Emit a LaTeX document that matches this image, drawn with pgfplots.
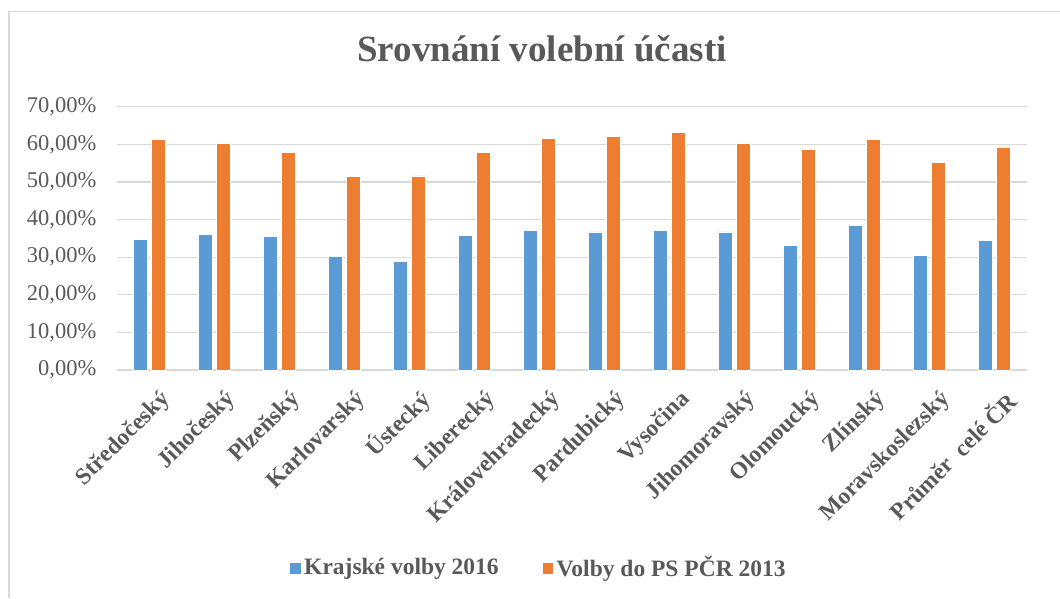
\documentclass[border=0pt]{standalone}
\usepackage{fontspec}
\setmainfont{Liberation Serif}
\usepackage{pgfplots}
\pgfplotsset{compat=1.18}
\definecolor{xblue}{HTML}{5B9BD5}
\definecolor{xorange}{HTML}{ED7D31}
\definecolor{xtext}{HTML}{595959}
\definecolor{xgrid}{HTML}{D9D9D9}
\begin{document}
\begin{tikzpicture}[x=1pt,y=1pt]
\useasboundingbox (0,0) rectangle (1060,598);
\draw[xgrid, line width=1.2pt] (9,0) -- (9,586.5) -- (1060,586.5);
\begin{axis}[
  at={(117pt,228pt)}, anchor=south west,
  scale only axis, width=910pt, height=263.3pt,
  xmin=-0.5, xmax=13.5, ymin=0, ymax=70,
  ytick={0,10,...,70},
  xtick={0,...,13},
  xticklabels={Středočeský, Jihočeský, Plzeňský, Karlovarský, Ústecký, Liberecký, Královehradecký, Pardubický, Vysočina, Jihomoravský, Olomoucký, Zlínský, Moravskoslezský, {Průměr~~celé ČR}},
  axis line style={draw=none},
  ymajorgrids, grid style={xgrid, line width=1.2pt},
  major tick length=0pt,
  /pgf/number format/assume math mode=true,
  yticklabel={\pgfmathprintnumber[fixed, fixed zerofill, precision=2, use comma]{\tick}\%},
  yticklabel style={font=\fontsize{22.5}{26}\selectfont, text=xtext, inner sep=0pt, anchor=east, xshift=-20.5pt},
  xticklabel style={font=\fontsize{23.5}{27}\selectfont\bfseries, text=xtext, inner sep=0pt, xshift=17pt, yshift=-26pt, rotate=45, anchor=east},
  title={Srovnání volební účasti},
  title style={at={(0.467,1.196)}, anchor=center, font=\fontsize{37}{40}\selectfont\bfseries, text=xtext},
  legend columns=2,
  legend style={at={(0.4637,-0.748)}, anchor=center, draw=none, fill=none, font=\fontsize{23.5}{27}\selectfont\bfseries, text=xtext, nodes={inner xsep=3pt}, /tikz/every even column/.append style={column sep=40pt}},
  legend image code/.code={\fill[#1] (0pt,-7pt) rectangle (11.5pt,4.5pt);},
]
\addplot[ybar, bar width=14pt, bar shift=-9pt, fill=xblue, draw=white, line width=0.4pt] coordinates {
(0,34.7) (1,36.1) (2,35.6) (3,30.2) (4,28.9) (5,35.8) (6,37.2) (7,36.7) (8,37.2) (9,36.7) (10,33.1) (11,38.4) (12,30.5) (13,34.5)};
\addlegendentry{Krajské volby 2016}
\addplot[ybar, bar width=14pt, bar shift=9pt, fill=xorange, draw=white, line width=0.4pt] coordinates {
(0,61.4) (1,60.3) (2,57.8) (3,51.5) (4,51.6) (5,57.8) (6,61.5) (7,62.1) (8,63.2) (9,60.3) (10,58.6) (11,61.4) (12,55.3) (13,59.3)};
\addlegendentry{Volby do PS PČR 2013}
\end{axis}
\end{tikzpicture}
\end{document}
